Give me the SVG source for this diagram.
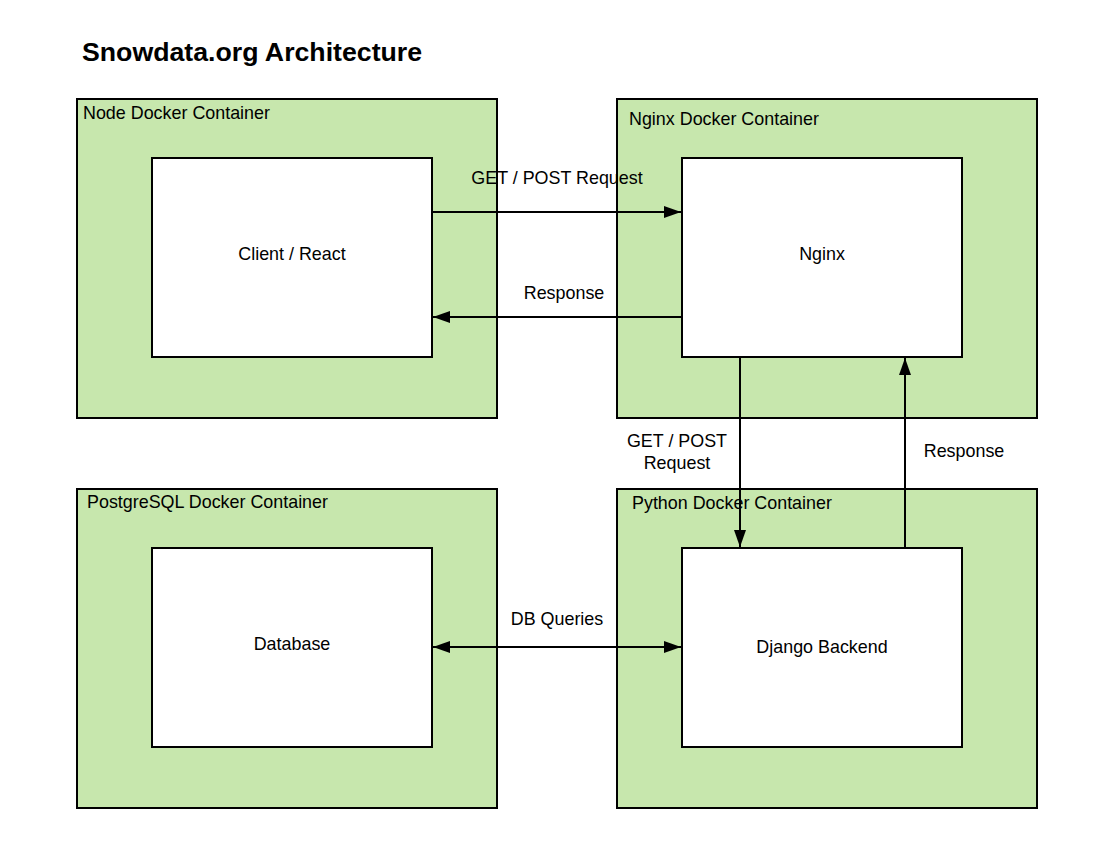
<svg xmlns="http://www.w3.org/2000/svg" width="1112" height="849" viewBox="0 0 1112 849">
<style>
.cont{fill:#c7e7ad;stroke:#000;stroke-width:2}
.box{fill:#fff;stroke:#000;stroke-width:2}
text{font-family:"Liberation Sans",Arial,sans-serif;font-size:17.9px;fill:#000}
.c{text-anchor:middle;dominant-baseline:central}
.title{font-size:26.7px;font-weight:bold}
.edge{fill:none;stroke:#000;stroke-width:2}
</style>
<defs>
<marker id="ah" markerUnits="userSpaceOnUse" markerWidth="18" markerHeight="14" refX="17" refY="6" orient="auto-start-reverse">
<path d="M0,0 L17,6 L0,12 Z" fill="#000"/>
</marker>
</defs>
<rect width="1112" height="849" fill="#fff"/>
<text x="82" y="61" class="title">Snowdata.org Architecture</text>
<g id="node-container">
<rect class="cont" x="77" y="99" width="420" height="319"/>
<text x="83" y="119">Node Docker Container</text>
</g>
<g id="nginx-container">
<rect class="cont" x="617" y="99" width="420" height="319"/>
<text x="629" y="125">Nginx Docker Container</text>
</g>
<g id="postgres-container">
<rect class="cont" x="77" y="489" width="420" height="319"/>
<text x="87" y="508">PostgreSQL Docker Container</text>
</g>
<g id="python-container">
<rect class="cont" x="617" y="489" width="420" height="319"/>
<text x="632" y="509">Python Docker Container</text>
</g>
<g id="client">
<rect class="box" x="152" y="158" width="280" height="199"/>
<text x="292" y="254" class="c">Client / React</text>
</g>
<g id="nginx">
<rect class="box" x="682" y="158" width="280" height="199"/>
<text x="822" y="254" class="c">Nginx</text>
</g>
<g id="database">
<rect class="box" x="152" y="548" width="280" height="199"/>
<text x="292" y="644" class="c">Database</text>
</g>
<g id="django">
<rect class="box" x="682" y="548" width="280" height="199"/>
<text x="822" y="647" class="c">Django Backend</text>
</g>
<g id="connectors">
<path class="edge" d="M432,212 L681,212" marker-end="url(#ah)"/>
<path class="edge" d="M682,317 L433,317" marker-end="url(#ah)"/>
<path class="edge" d="M740,357 L740,547" marker-end="url(#ah)"/>
<path class="edge" d="M905,548 L905,358" marker-end="url(#ah)"/>
<path class="edge" d="M433,647 L681,647" marker-start="url(#ah)" marker-end="url(#ah)"/>
<text x="557" y="178" class="c">GET / POST Request</text>
<text x="564" y="293" class="c">Response</text>
<text x="677" y="441" class="c">GET / POST</text>
<text x="677" y="463" class="c">Request</text>
<text x="964" y="451" class="c">Response</text>
<text x="557" y="619" class="c">DB Queries</text>
</g>
</svg>
